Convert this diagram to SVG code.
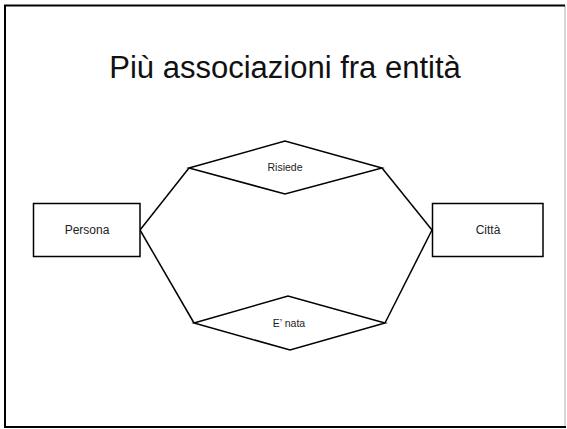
<svg xmlns="http://www.w3.org/2000/svg" width="567" height="429" viewBox="0 0 567 429">
  <style>
    .shape { fill: #ffffff; stroke: #000000; stroke-width: 1.5; }
    .conn { fill: none; stroke: #000000; stroke-width: 1.5; }
    .lbl { font-family: "Liberation Sans", Arial, sans-serif; fill: #222222; text-anchor: middle; dominant-baseline: central; }
    .ent { font-size: 12px; }
    .rel { font-size: 10.5px; }
    .title { font-family: "Liberation Sans", Arial, sans-serif; font-size: 31px; fill: #111111; text-anchor: middle; }
  </style>
  <rect x="0" y="0" width="567" height="429" fill="#ffffff"/>
  <g id="frame">
    <line x1="565" y1="5" x2="565" y2="428" stroke="#c8c8c8" stroke-width="1.5"/>
    <polyline points="5,428 5,5.5 565,5.5" fill="none" stroke="#000000" stroke-width="2"/>
    <line x1="4" y1="427" x2="566" y2="427" stroke="#000000" stroke-width="2"/>
  </g>
  <text class="title" x="285" y="78">Più associazioni fra entità</text>
  <g id="connectors">
    <line class="conn" x1="140" y1="230" x2="189" y2="168"/>
    <line class="conn" x1="140" y1="230" x2="194" y2="323"/>
    <line class="conn" x1="432" y1="230" x2="382" y2="168"/>
    <line class="conn" x1="432" y1="230" x2="385" y2="323"/>
  </g>
  <g id="persona">
    <rect class="shape" x="33.5" y="203.5" width="106.5" height="53"/>
    <text class="lbl ent" x="87" y="230">Persona</text>
  </g>
  <g id="citta">
    <rect class="shape" x="432.5" y="203.5" width="110.5" height="53"/>
    <text class="lbl ent" x="488" y="230">Città</text>
  </g>
  <g id="risiede">
    <polygon class="shape" points="189,168 285,141 382,168 285,194"/>
    <text class="lbl rel" x="285" y="167">Risiede</text>
  </g>
  <g id="e-nata">
    <polygon class="shape" points="194,323 288,296 385,323 290,350"/>
    <text class="lbl rel" x="289" y="323">E’ nata</text>
  </g>
</svg>
